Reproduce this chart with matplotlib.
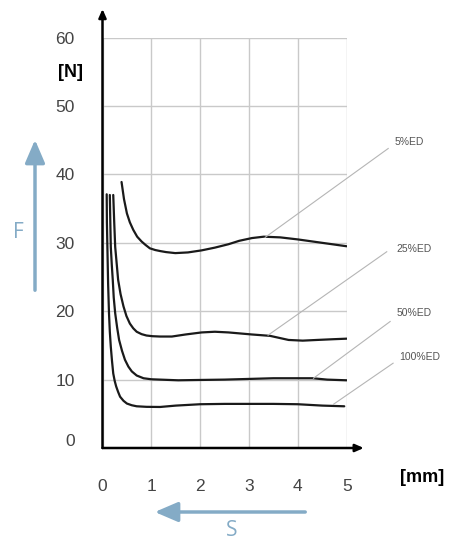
import matplotlib
matplotlib.use("Agg")
import matplotlib.pyplot as plt
import matplotlib.transforms as mtransforms

# curves (s in mm, F in N)
x_5 = [0.39, 0.44, 0.5, 0.56, 0.63, 0.71, 0.8, 0.88, 0.97, 1.08, 1.18, 1.3, 1.49, 1.75, 2.03, 2.3, 2.58, 2.8, 3.06, 3.3, 3.64, 4.0, 4.5, 5.0]
y_5 = [38.9, 36.4, 34.3, 33.0, 31.9, 30.9, 30.2, 29.7, 29.2, 28.95, 28.8, 28.65, 28.5, 28.6, 28.9, 29.3, 29.8, 30.3, 30.7, 30.9, 30.8, 30.5, 30.0, 29.5]

x_25 = [0.22, 0.24, 0.26, 0.29, 0.32, 0.37, 0.43, 0.49, 0.56, 0.63, 0.7, 0.8, 0.9, 1.02, 1.18, 1.42, 1.7, 2.03, 2.3, 2.58, 3.06, 3.43, 3.81, 4.1, 4.39, 4.7, 5.04]
y_25 = [37.0, 33.0, 29.4, 27.0, 24.6, 22.5, 20.7, 19.3, 18.2, 17.5, 17.0, 16.65, 16.45, 16.35, 16.3, 16.3, 16.6, 16.9, 17.0, 16.9, 16.6, 16.4, 15.8, 15.7, 15.8, 15.9, 16.0]

x_50 = [0.15, 0.16, 0.17, 0.19, 0.21, 0.23, 0.26, 0.3, 0.34, 0.4, 0.46, 0.53, 0.6, 0.7, 0.84, 1.0, 1.18, 1.55, 2.0, 2.5, 3.0, 3.5, 4.0, 4.3, 4.6, 5.0]
y_50 = [37.0, 33.0, 29.4, 26.8, 24.6, 22.0, 19.7, 17.6, 15.8, 14.2, 12.9, 11.9, 11.2, 10.6, 10.2, 10.05, 10.0, 9.9, 9.95, 10.0, 10.1, 10.2, 10.2, 10.2, 10.0, 9.9]

x_100 = [0.086, 0.09, 0.1, 0.115, 0.133, 0.15, 0.17, 0.195, 0.22, 0.25, 0.28, 0.32, 0.36, 0.43, 0.5, 0.6, 0.7, 0.9, 1.18, 1.5, 2.0, 2.5, 3.0, 3.5, 4.0, 4.5, 4.95]
y_100 = [37.1, 33.0, 29.4, 24.0, 19.7, 17.0, 14.8, 12.7, 10.9, 9.8, 9.0, 8.2, 7.5, 6.9, 6.5, 6.25, 6.1, 6.02, 6.0, 6.2, 6.4, 6.45, 6.45, 6.45, 6.4, 6.2, 6.1]

labels = ["5%ED", "25%ED", "50%ED", "100%ED"]
xticks = [0, 1, 2, 3, 4, 5]
yticks = [0, 10, 20, 30, 40, 50, 60]

# leader lines: (start on curve, end near label), label anchor
leaders = [((3.33, 30.8), (5.85, 43.8), (5.99, 44.8)),
           ((3.39, 16.5), (5.82, 28.7), (6.02, 29.05)),
           ((4.32, 10.2), (5.89, 18.5), (6.02, 19.8)),
           ((4.73, 6.4), (5.95, 12.4), (6.07, 13.3))]

W, H = 449, 541
fig = plt.figure(figsize=(W / 100, H / 100), dpi=100)
fig.patch.set_facecolor("white")
ax = fig.add_axes([102.5 / W, (H - 448) / H, 244.2 / W, 410.3 / H])
ax.set_xlim(0, 5)
ax.set_ylim(0, 60)

for s in ax.spines.values():
    s.set_visible(False)
ax.set_xticks(xticks)
ax.set_yticks(yticks)
ax.grid(True, color="#c9c9c9", lw=1.0)
ax.tick_params(length=0, labelsize=12.5, labelcolor="#444444")
ax.tick_params(axis="x", pad=22)
ax.tick_params(axis="y", pad=20)
ax.set_axisbelow(True)
for t in ax.get_xticklabels() + ax.get_yticklabels():
    t.set_family("Liberation Sans")
# the "0" on the F axis sits a bit above the baseline
ylab0 = ax.get_yticklabels()[0]
ylab0.set_transform(ylab0.get_transform() + mtransforms.ScaledTranslation(0, 0.08, fig.dpi_scale_trans))

# axes with arrow heads
ax.annotate("", xy=(0, 64.2), xytext=(0, 0), annotation_clip=False,
            arrowprops=dict(arrowstyle="-|>,head_length=0.5,head_width=0.22", color="black", lw=1.8, shrinkA=0, shrinkB=0))
ax.annotate("", xy=(5.35, 0), xytext=(0, 0), annotation_clip=False,
            arrowprops=dict(arrowstyle="-|>,head_length=0.5,head_width=0.22", color="black", lw=1.8, shrinkA=0, shrinkB=0))

for xs, ys in [(x_5, y_5), (x_25, y_25), (x_50, y_50), (x_100, y_100)]:
    ax.plot(xs, ys, color="#1a1a1a", lw=1.6, solid_capstyle="round", solid_joinstyle="round")

for lab, (p0, p1, pt) in zip(labels, leaders):
    ax.plot([p0[0], p1[0]], [p0[1], p1[1]], color="#b5b5b5", lw=0.8, clip_on=False)
    ax.text(pt[0], pt[1], lab, fontsize=7.5, color="#555555", ha="left", va="center",
            family="Liberation Sans", clip_on=False)

fig.text(83 / W, 1 - 73 / H, "[N]", fontsize=13, fontweight="bold", ha="right", va="center",
         family="Liberation Sans")
fig.text(422 / W, 1 - 477 / H, "[mm]", fontsize=13, fontweight="bold", ha="center", va="center",
         family="Liberation Sans")

# blue direction arrows F and S
blue = "#84abc6"
fig.add_artist(matplotlib.patches.FancyArrowPatch(
    (35 / W, 1 - 293 / H), (35 / W, 1 - 137 / H), transform=fig.transFigure,
    arrowstyle="-|>,head_length=0.7,head_width=0.3", color=blue, lw=2.5, mutation_scale=20))
fig.text(18 / W, 1 - 232 / H, "F", fontsize=15, color=blue, ha="center", va="center", family="Open Sans")
fig.add_artist(matplotlib.patches.FancyArrowPatch(
    (308 / W, 1 - 512 / H), (152 / W, 1 - 512 / H), transform=fig.transFigure,
    arrowstyle="-|>,head_length=0.7,head_width=0.3", color=blue, lw=2.5, mutation_scale=20))
fig.text(232 / W, 1 - 530 / H, "S", fontsize=15, color=blue, ha="center", va="center", family="Open Sans")

fig.savefig("out.png", dpi=100, facecolor="white")
